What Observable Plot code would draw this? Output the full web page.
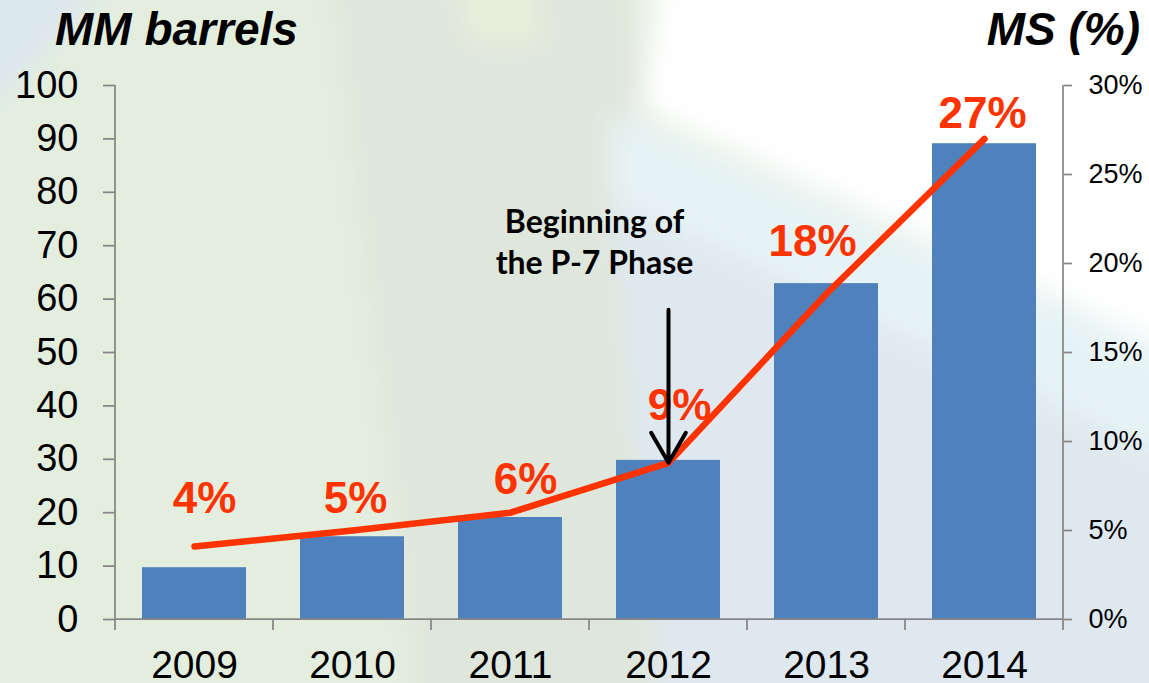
<!DOCTYPE html>
<html>
<head>
<meta charset="utf-8">
<script src="https://cdn.jsdelivr.net/npm/d3@7"></script>
<script src="https://cdn.jsdelivr.net/npm/@observablehq/plot@0.6"></script>
<style>
  html, body { margin: 0; padding: 0; }
  #wrap { position: relative; width: 1149px; height: 683px; overflow: hidden; font-family: "Liberation Sans", Arial, sans-serif; }
  #bg { position: absolute; left: 0; top: 0; }
  #header { position: relative; height: 70px; }
  .ttl { position: absolute; top: 6px; font-size: 46px; line-height: 46px; font-weight: bold; font-style: italic; color: #000; white-space: nowrap; }
  #chart { position: relative; }
</style>
</head>
<body>
<div id="wrap">
  <svg id="bg" width="1149" height="683" xmlns="http://www.w3.org/2000/svg">
    <defs><filter id="blur" x="-10%" y="-10%" width="120%" height="120%"><feGaussianBlur stdDeviation="14"/></filter></defs>
    <rect width="1149" height="683" fill="#e4eedf"/>
    <g filter="url(#blur)">
      <polygon points="-40,-40 130,-40 -40,140" fill="#dbe7ee"/>
      <polygon points="330,-40 620,-40 760,720 420,720" fill="#dfe6dc"/>
      <polygon points="450,-40 530,-40 545,45 470,45" fill="#e9eedb"/>
      <polygon points="660,-40 1190,-40 1190,360 640,110" fill="#ffffff"/>
      <polygon points="610,110 1190,360 1190,470 610,200" fill="#e6f3f4"/>
      <polygon points="610,200 1190,470 1190,720 660,720" fill="#dfe8ee"/>
    </g>
  </svg>
  <div id="header">
    <div class="ttl" style="left:55px;">MM barrels</div>
    <div class="ttl" style="right:9px;">MS (%)</div>
  </div>
  <div id="chart"></div>
</div>
<script>
// ---- data ----
const years = ["2009", "2010", "2011", "2012", "2013", "2014"];
const volumes = [9.7, 15.5, 19.1, 29.8, 62.9, 89.1];      // MM barrels
const marketShare = [4.1, 5.0, 6.0, 8.8, 18.3, 27.0];      // MS (%)
const shareLabels = ["4%", "5%", "6%", "9%", "18%", "27%"];
const leftTicks = [0, 10, 20, 30, 40, 50, 60, 70, 80, 90, 100];
const rightTicks = [0, 5, 10, 15, 20, 25, 30];
const annotationText = "Beginning of\nthe P-7 Phase";
const annotationYear = "2012";
const annotationLevel = 71;     // MM barrels units
const arrowStartLevel = 58;     // MM barrels units

const leftMax = 100, rightMax = 30;
const toLeft = v => v * leftMax / rightMax;

const data = years.map((year, i) => ({year, volume: volumes[i], ms: marketShare[i], label: shareLabels[i]}));

const red = "#ff3300";
const grey = "#868686";

// per-label nudges (style only)
const nudge = {"2009": [10, -48], "2010": [3, -32], "2011": [15, -33], "2012": [11, -57], "2013": [-14, -52], "2014": [-2, -25]};

const plot = Plot.plot({
  width: 1149,
  height: 613,
  marginLeft: 115,
  marginRight: 86,
  marginTop: 15,
  marginBottom: 64,
  style: {background: "transparent", fontFamily: "'Liberation Sans', Arial, sans-serif", overflow: "visible"},
  x: {domain: years, paddingInner: 0.34, paddingOuter: 0.17, axis: null, label: null},
  y: {domain: [0, leftMax], axis: null, label: null},
  marks: [
    Plot.barY(data, {x: "year", y: "volume", fill: "#4f81bd"}),
    Plot.axisY(leftTicks, {anchor: "left", label: null, tickSize: 12, tickPadding: 25, fontSize: 38, stroke: grey, strokeWidth: 1.75, fill: "#000"}),
    Plot.axisY(rightTicks.map(toLeft), {anchor: "right", label: null, tickSize: 8, tickPadding: 17, fontSize: 27, stroke: grey, strokeWidth: 1.75, fill: "#000",
      tickFormat: d => Math.round(d * rightMax / leftMax) + "%"}),
    Plot.axisX({label: null, tickSize: 0, tickPadding: 31, fontSize: 39, fill: "#000"}),
    Plot.line(data, {x: "year", y: d => toLeft(d.ms), stroke: red, strokeWidth: 6.5, strokeLinecap: "round", strokeLinejoin: "round"}),
    ...data.map(d => Plot.text([d], {x: "year", y: e => toLeft(e.ms), text: "label", fill: red, fontSize: 44, fontWeight: "bold",
      dx: nudge[d.year][0], dy: nudge[d.year][1]})),
    Plot.text([annotationText], {x: () => annotationYear, y: () => annotationLevel, text: d => d, dx: -74, fontSize: 32,
      fontWeight: "bold", fill: "#000", lineHeight: 1.3, fontFamily: "Lato, 'Open Sans', sans-serif"}),
    Plot.arrow([annotationYear], {x1: d => d, x2: d => d, y1: () => arrowStartLevel,
      y2: () => toLeft(marketShare[years.indexOf(annotationYear)]), stroke: "#000", strokeWidth: 4, headLength: 13, headAngle: 60})
  ]
});

// axis lines and category-boundary ticks drawn from the plot's own scales
const xs = plot.scale("x"), ys = plot.scale("y");
const svg = d3.select(plot);
const y0 = ys.apply(0), yTop = ys.apply(leftMax);
const [xl, xr] = xs.range;
const g = svg.append("g").attr("stroke", grey).attr("stroke-width", 1.75).attr("fill", "none");
g.append("line").attr("x1", xl).attr("x2", xr).attr("y1", y0).attr("y2", y0);
g.append("line").attr("x1", xl).attr("x2", xl).attr("y1", y0).attr("y2", yTop);
g.append("line").attr("x1", xr).attr("x2", xr).attr("y1", y0).attr("y2", yTop);
const half = (xs.step - xs.bandwidth) / 2;
const bounds = years.map(y => xs.apply(y) - half).concat([xs.apply(years[years.length - 1]) + xs.bandwidth + half]);
bounds.forEach(b => g.append("line").attr("x1", b).attr("x2", b).attr("y1", y0).attr("y2", y0 + 11));

document.getElementById("chart").appendChild(plot);
</script>
</body>
</html>
